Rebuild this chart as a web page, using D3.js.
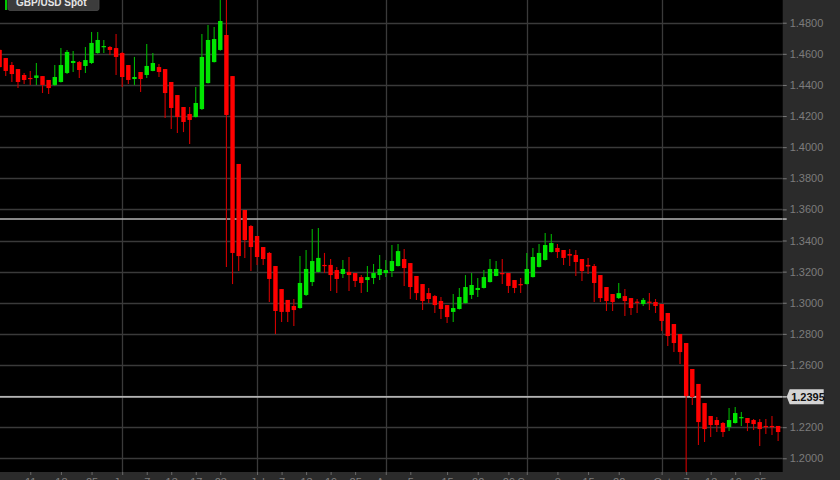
<!DOCTYPE html>
<html><head><meta charset="utf-8">
<script src="https://cdn.jsdelivr.net/npm/d3@7/dist/d3.min.js"></script>
<style>html,body{margin:0;padding:0;background:#000;overflow:hidden}svg{display:block}</style>
</head><body><svg id="c" width="840" height="480"></svg>
<script>
const dates = [
"2016-05-04","2016-05-05","2016-05-06","2016-05-09","2016-05-10","2016-05-11","2016-05-12","2016-05-13",
"2016-05-16","2016-05-17","2016-05-18","2016-05-19","2016-05-20","2016-05-23","2016-05-24","2016-05-25",
"2016-05-26","2016-05-27","2016-05-30","2016-05-31","2016-06-01","2016-06-02","2016-06-03","2016-06-06",
"2016-06-07","2016-06-08","2016-06-09","2016-06-10","2016-06-13","2016-06-14","2016-06-15","2016-06-16",
"2016-06-17","2016-06-20","2016-06-21","2016-06-22","2016-06-23","2016-06-24","2016-06-27","2016-06-28",
"2016-06-29","2016-06-30","2016-07-01","2016-07-04","2016-07-05","2016-07-06","2016-07-07","2016-07-08",
"2016-07-11","2016-07-12","2016-07-13","2016-07-14","2016-07-15","2016-07-18","2016-07-19","2016-07-20",
"2016-07-21","2016-07-22","2016-07-25","2016-07-26","2016-07-27","2016-07-28","2016-07-29","2016-08-01",
"2016-08-02","2016-08-03","2016-08-04","2016-08-05","2016-08-08","2016-08-09","2016-08-10","2016-08-11",
"2016-08-12","2016-08-15","2016-08-16","2016-08-17","2016-08-18","2016-08-19","2016-08-22","2016-08-23",
"2016-08-24","2016-08-25","2016-08-26","2016-08-29","2016-08-30","2016-08-31","2016-09-01","2016-09-02",
"2016-09-05","2016-09-06","2016-09-07","2016-09-08","2016-09-09","2016-09-12","2016-09-13","2016-09-14",
"2016-09-15","2016-09-16","2016-09-19","2016-09-20","2016-09-21","2016-09-22","2016-09-23","2016-09-26",
"2016-09-27","2016-09-28","2016-09-29","2016-09-30","2016-10-03","2016-10-04","2016-10-05","2016-10-06",
"2016-10-07","2016-10-10","2016-10-11","2016-10-12","2016-10-13","2016-10-14","2016-10-17","2016-10-18",
"2016-10-19","2016-10-20","2016-10-21","2016-10-24","2016-10-25","2016-10-26","2016-10-27","2016-10-28"];

const open = [
1.4625,1.4573,1.4528,1.4502,1.4464,1.4445,1.4445,1.4457,1.4432,1.4400,1.4419,1.4477,1.4541,1.4547,1.4522,1.4541,
1.4605,1.4644,1.4644,1.4637,1.4605,1.4528,1.4438,1.4483,1.4464,1.4490,1.4515,1.4502,1.4419,1.4335,1.4258,1.4213,
1.4194,1.4245,1.4412,1.4547,1.4625,1.4721,1.4457,1.3892,1.3596,1.3493,1.3429,1.3358,1.3320,1.3236,1.3088,1.3018,
1.2979,1.2966,1.3050,1.3133,1.3198,1.3243,1.3243,1.3210,1.3185,1.3198,1.3191,1.3165,1.3146,1.3159,1.3178,1.3191,
1.3204,1.3236,1.3281,1.3255,1.3172,1.3120,1.3062,1.3043,1.3011,1.2985,1.2941,1.2960,1.2998,1.3050,1.3082,1.3095,
1.3133,1.3172,1.3191,1.3191,1.3146,1.3120,1.3120,1.3165,1.3230,1.3275,1.3326,1.3352,1.3339,1.3313,1.3307,1.3281,
1.3243,1.3236,1.3178,1.3101,1.3056,1.3030,1.3043,1.3030,1.3007,1.2992,1.3007,1.3005,1.2992,1.2934,1.2863,1.2799,
1.2741,1.2574,1.2478,1.2355,1.2272,1.2246,1.2227,1.2201,1.2227,1.2259,1.2259,1.2246,1.2233,1.2208,1.2208,1.2208];

const high = [
1.4631,1.4573,1.4547,1.4502,1.4477,1.4490,1.4541,1.4457,1.4432,1.4528,1.4637,1.4625,1.4618,1.4554,1.4644,1.4740,
1.4740,1.4689,1.4650,1.4727,1.4612,1.4528,1.4580,1.4483,1.4663,1.4605,1.4535,1.4502,1.4419,1.4335,1.4258,1.4258,
1.4387,1.4727,1.4785,1.4772,1.4985,1.5010,1.4457,1.3892,1.3596,1.3500,1.3429,1.3358,1.3326,1.3236,1.3088,1.3018,
1.3024,1.3300,1.3339,1.3474,1.3480,1.3320,1.3281,1.3230,1.3275,1.3294,1.3191,1.3178,1.3236,1.3249,1.3307,1.3275,
1.3371,1.3377,1.3345,1.3255,1.3172,1.3120,1.3095,1.3050,1.3037,1.2985,1.3056,1.3095,1.3178,1.3191,1.3159,1.3210,
1.3281,1.3268,1.3281,1.3191,1.3146,1.3159,1.3320,1.3352,1.3377,1.3448,1.3442,1.3377,1.3339,1.3345,1.3339,1.3281,
1.3288,1.3249,1.3178,1.3101,1.3056,1.3127,1.3088,1.3030,1.3024,1.3030,1.3062,1.3024,1.2992,1.2934,1.2863,1.2799,
1.2741,1.2574,1.2478,1.2355,1.2272,1.2265,1.2233,1.2323,1.2330,1.2298,1.2259,1.2252,1.2252,1.2252,1.2272,1.2208];

const low = [
1.4509,1.4457,1.4419,1.4380,1.4406,1.4400,1.4400,1.4348,1.4342,1.4393,1.4415,1.4470,1.4483,1.4445,1.4477,1.4535,
1.4600,1.4605,1.4592,1.4464,1.4387,1.4406,1.4400,1.4355,1.4445,1.4488,1.4451,1.4187,1.4117,1.4091,1.4097,1.4020,
1.4190,1.4239,1.4410,1.4545,1.4620,1.3230,1.3120,1.3204,1.3288,1.3204,1.3243,1.3243,1.3005,1.2799,1.2876,1.2876,
1.2850,1.2962,1.3043,1.3108,1.3195,1.3191,1.3075,1.3062,1.3159,1.3075,1.3101,1.3062,1.3069,1.3120,1.3146,1.3165,
1.3165,1.3233,1.3108,1.3024,1.3018,1.2953,1.2998,1.2934,1.2895,1.2870,1.2876,1.2957,1.2995,1.3024,1.3037,1.3092,
1.3130,1.3170,1.3120,1.3062,1.3062,1.3062,1.3117,1.3162,1.3227,1.3272,1.3323,1.3288,1.3243,1.3236,1.3172,1.3140,
1.3185,1.3005,1.3005,1.2947,1.2947,1.3024,1.2915,1.2921,1.2934,1.2979,1.2953,1.2934,1.2818,1.2722,1.2683,1.2606,
1.1850,1.2343,1.2085,1.2105,1.2137,1.2169,1.2137,1.2175,1.2224,1.2207,1.2175,1.2182,1.2079,1.2156,1.2150,1.2111];

const close = [
1.4515,1.4490,1.4470,1.4419,1.4432,1.4438,1.4461,1.4400,1.4380,1.4451,1.4528,1.4612,1.4554,1.4496,1.4560,1.4670,
1.4689,1.4650,1.4625,1.4580,1.4451,1.4432,1.4451,1.4438,1.4522,1.4541,1.4483,1.4348,1.4252,1.4194,1.4162,1.4175,
1.4284,1.4580,1.4689,1.4695,1.4811,1.4207,1.3320,1.3300,1.3403,1.3358,1.3294,1.3281,1.3153,1.2947,1.2941,1.2941,
1.2953,1.3127,1.3217,1.3268,1.3288,1.3236,1.3178,1.3153,1.3217,1.3178,1.3140,1.3127,1.3165,1.3191,1.3217,1.3210,
1.3268,1.3332,1.3223,1.3101,1.3062,1.3011,1.3024,1.2985,1.2960,1.2908,1.2966,1.3037,1.3101,1.3114,1.3095,1.3165,
1.3217,1.3217,1.3185,1.3108,1.3095,1.3114,1.3217,1.3294,1.3320,1.3371,1.3384,1.3326,1.3288,1.3303,1.3262,1.3204,
1.3233,1.3127,1.3030,1.3011,1.3005,1.3062,1.3011,1.2966,1.3003,1.3018,1.3003,1.2979,1.2883,1.2786,1.2741,1.2683,
1.2400,1.2394,1.2233,1.2188,1.2214,1.2214,1.2169,1.2246,1.2291,1.2265,1.2227,1.2220,1.2188,1.2203,1.2204,1.2169];

const priceTicks = [1.20,1.22,1.24,1.26,1.28,1.30,1.32,1.34,1.36,1.38,1.40,1.42,1.44,1.46,1.48];
const monthStarts = ["2016-06-01","2016-07-01","2016-08-01","2016-09-01","2016-10-03"];
const dateTicks = ["2016-05-11","2016-05-18","2016-05-25","2016-06-01","2016-06-07","2016-06-13","2016-06-17","2016-06-23",
"2016-07-01","2016-07-07","2016-07-13","2016-07-19","2016-07-25","2016-08-01","2016-08-05","2016-08-15","2016-08-22",
"2016-08-29","2016-09-01","2016-09-08","2016-09-15","2016-09-22","2016-10-03","2016-10-07","2016-10-13","2016-10-19","2016-10-25"];
const dateTickLabels = ["11","18","25","Jun","7","13","17","23","Jul","7","13","19","25","Aug","5","15","22","29",
"Sep","8","15","22","Oct","7","13","19","25"];
const refLevels = [1.3538, 1.2395];
const labelledLevel = 1.2395;
const seriesName = "GBP/USD Spot";

const W = 840, H = 480, plotW = 782.7, plotH = 472;
const svg = d3.select("#c");
svg.append("rect").attr("width", W).attr("height", H).attr("fill", "#2b2b2b");
svg.append("rect").attr("width", plotW).attr("height", plotH).attr("fill", "#000");

const x = d3.scalePoint().domain(dates).range([-0.4, -0.4 + 127 * 6.13]);
const y = d3.scaleLinear().domain([1.1912, 1.4946]).range([plotH, 0]);
const bodyW = 4.4;

svg.append("defs").append("clipPath").attr("id", "pc")
  .append("rect").attr("width", plotW).attr("height", plotH);

const grid = svg.append("g").attr("clip-path", "url(#pc)");
grid.selectAll("line.h").data(priceTicks).join("line").attr("class", "h")
  .attr("x1", 0).attr("x2", plotW)
  .attr("y1", d => Math.round(y(d)) + 0.5).attr("y2", d => Math.round(y(d)) + 0.5)
  .attr("stroke", "#3a3a3a").attr("stroke-width", 1.3);
grid.selectAll("line.v").data(monthStarts).join("line").attr("class", "v")
  .attr("y1", 0).attr("y2", plotH)
  .attr("x1", d => Math.round(x(d)) + 0.5).attr("x2", d => Math.round(x(d)) + 0.5)
  .attr("stroke", "#3a3a3a").attr("stroke-width", 1.3);

// reference lines
grid.selectAll("line.ref").data(refLevels).join("line").attr("class", "ref")
  .attr("x1", 0).attr("x2", plotW)
  .attr("y1", d => y(d)).attr("y2", d => y(d))
  .attr("stroke", "#b4b4b4").attr("stroke-width", 1.6);

const idx = d3.range(dates.length);
const cg = svg.append("g").attr("clip-path", "url(#pc)");
const up = i => close[i] >= open[i];
cg.selectAll("line.wick").data(idx).join("line").attr("class", "wick")
  .attr("x1", i => x(dates[i])).attr("x2", i => x(dates[i]))
  .attr("y1", i => y(high[i])).attr("y2", i => y(low[i]))
  .attr("stroke", i => up(i) ? "#00b400" : "#d00000").attr("stroke-width", 1.1);
cg.selectAll("rect.body").data(idx).join("rect").attr("class", "body")
  .attr("x", i => x(dates[i]) - bodyW / 2).attr("width", bodyW)
  .attr("y", i => y(Math.max(open[i], close[i])))
  .attr("height", i => Math.max(1.2, Math.abs(y(open[i]) - y(close[i]))))
  .attr("fill", i => up(i) ? "#00e600" : "#ff0000");

// right axis
const ay = svg.append("g").attr("transform", `translate(${plotW},0)`)
  .call(d3.axisRight(y).tickValues(priceTicks).tickFormat(d3.format(".4f")).tickSize(4).tickPadding(3));
ay.select(".domain").remove();
ay.selectAll("line").attr("stroke", "#7a7a7a");
ay.selectAll("text").attr("fill", "#7c7c7c").style("font", "11px 'Liberation Sans', Arial, sans-serif");

// ref tick marks on axis
svg.selectAll("line.refTick").data(refLevels).join("line").attr("class", "refTick")
  .attr("x1", plotW).attr("x2", plotW + 4)
  .attr("y1", d => y(d)).attr("y2", d => y(d))
  .attr("stroke", "#b4b4b4").attr("stroke-width", 1.6);

// labelled level box
const ly = y(labelledLevel);
const lb = svg.append("g");
lb.append("path")
  .attr("d", `M${plotW + 4},${ly} L${plotW + 7},${ly - 7.5} L${plotW + 41},${ly - 7.5} L${plotW + 41},${ly + 7.5} L${plotW + 7},${ly + 7.5} Z`)
  .attr("fill", "#d4d4d4");
lb.append("text").attr("x", plotW + 8.5).attr("y", ly + 4)
  .attr("fill", "#111").style("font", "bold 11px 'Liberation Sans', Arial, sans-serif")
  .text(d3.format(".4f")(labelledLevel));

// bottom axis
const ax = svg.append("g").attr("transform", `translate(0,${plotH})`)
  .call(d3.axisBottom(x).tickValues(dateTicks).tickFormat((d, i) => dateTickLabels[i]).tickSize(3).tickPadding(3));
ax.select(".domain").remove();
ax.selectAll("line").attr("stroke", "#6a6a6a");
ax.selectAll("text").attr("fill", "#7c7c7c").style("font", "11px 'Liberation Sans', Arial, sans-serif");

// legend
const lg = svg.append("g");
lg.append("rect").attr("x", 5).attr("y", -1).attr("width", 2.2).attr("height", 11).attr("fill", "#00c800");
lg.append("rect").attr("x", 8).attr("y", -4).attr("width", 91).attr("height", 14.5).attr("rx", 2)
  .attr("fill", "#3c3c3c").attr("stroke", "#4a4a4a").attr("stroke-width", 0.8);
lg.append("text").attr("x", 16).attr("y", 6).attr("fill", "#e6e6e6")
  .style("font", "bold 10px 'Liberation Sans', Arial, sans-serif").text(seriesName);
</script></body></html>
